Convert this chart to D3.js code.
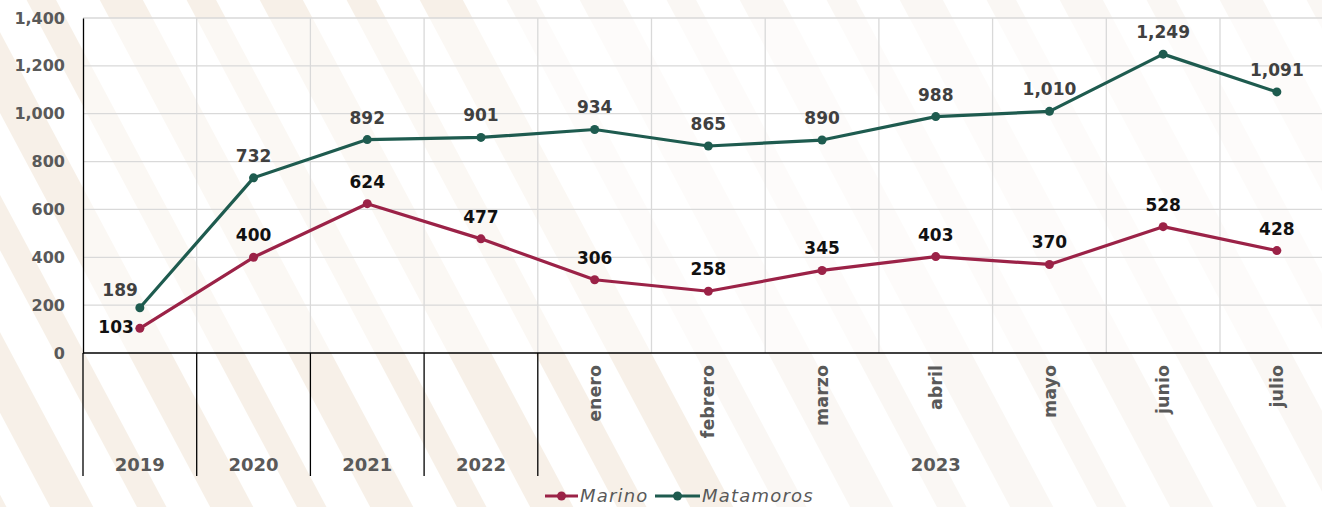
<!DOCTYPE html>
<html>
<head>
<meta charset="utf-8">
<script src="https://cdn.jsdelivr.net/npm/d3@7"></script>
<style>
  body { margin: 0; background: #fff; }
  text { font-family: "DejaVu Sans", sans-serif; }
</style>
</head>
<body>
<div id="chart"></div>
<script>
// data
const categories = ["2019", "2020", "2021", "2022", "enero", "febrero", "marzo", "abril", "mayo", "junio", "julio"];
const marino = [103, 400, 624, 477, 306, 258, 345, 403, 370, 528, 428];
const matamoros = [189, 732, 892, 901, 934, 865, 890, 988, 1010, 1249, 1091];
const yTicks = [0, 200, 400, 600, 800, 1000, 1200, 1400];
const yearLabels = ["2019", "2020", "2021", "2022", "2023"];
const yearStart = [0, 1, 2, 3, 4];   // index of first category in each year
const yearEnd = [1, 2, 3, 4, 11];

let svgWidth = 1322;
let svgHeight = 507;

let svg = d3.select("#chart")
  .append("svg")
  .attr("width", svgWidth)
  .attr("height", svgHeight);

// faint decorative background
let bg = svg.append("g").attr("opacity", 0.4);
for (let i = -4; i < 22; i++) {
  bg.append("line")
    .attr("x1", i * 80 - 60).attr("y1", -40)
    .attr("x2", i * 80 + 260).attr("y2", 560)
    .attr("stroke", i < 7 ? "#ecdcc6" : "#f3ede4")
    .attr("stroke-width", i % 2 ? 26 : 38)
    .attr("stroke-linecap", "round");
}
svg.append("rect")
  .attr("x", 83).attr("y", 18)
  .attr("width", 1322 - 83).attr("height", 335)
  .attr("fill", "#fff").attr("opacity", 0.5);

let x = d3.scaleBand().domain(categories).range([83, 1333.7]);
let y = d3.scaleLinear().domain([0, 1400]).range([353, 18]);
let cx = d => x(d) + x.bandwidth() / 2;

// gridlines
svg.append("g").selectAll("line")
  .data(yTicks.slice(1))
  .enter().append("line")
  .attr("x1", 83).attr("x2", svgWidth)
  .attr("y1", d => y(d)).attr("y2", d => y(d))
  .attr("stroke", "#d9d9d9").attr("stroke-width", 1.3);

svg.append("g").selectAll("line")
  .data(categories.slice(1))
  .enter().append("line")
  .attr("x1", d => x(d)).attr("x2", d => x(d))
  .attr("y1", 18).attr("y2", 353)
  .attr("stroke", "#d9d9d9").attr("stroke-width", 1.3);

// y axis
let yAxis = svg.append("g")
  .attr("transform", "translate(83,0)")
  .call(d3.axisLeft(y).tickValues(yTicks).tickSize(0).tickPadding(18).tickFormat(d3.format(",")));
yAxis.select(".domain").attr("stroke", "#000").attr("stroke-width", 1.3);
yAxis.selectAll("text")
  .attr("font-size", 16).attr("font-weight", "bold").attr("fill", "#595959")
  .attr("font-family", "DejaVu Sans");

// x axis baseline and year separators
svg.append("line")
  .attr("x1", 83).attr("x2", svgWidth)
  .attr("y1", y(0)).attr("y2", y(0))
  .attr("stroke", "#000").attr("stroke-width", 1.3);

svg.append("g").selectAll("line")
  .data(yearStart)
  .enter().append("line")
  .attr("x1", d => x(categories[d])).attr("x2", d => x(categories[d]))
  .attr("y1", y(0)).attr("y2", 476)
  .attr("stroke", "#000").attr("stroke-width", 1.3);

// month labels
svg.append("g").selectAll("text")
  .data(categories.slice(4))
  .enter().append("text")
  .attr("transform", d => `translate(${cx(d)},365) rotate(-90)`)
  .attr("text-anchor", "end")
  .attr("dy", "0.35em")
  .attr("font-size", 17.5).attr("font-weight", "bold").attr("fill", "#595959")
  .text(d => d);

// year labels
svg.append("g").selectAll("text")
  .data(yearLabels)
  .enter().append("text")
  .attr("x", (d, i) => (x(categories[yearStart[i]]) + x(categories[yearEnd[i] - 1]) + x.bandwidth()) / 2)
  .attr("y", 471)
  .attr("text-anchor", "middle")
  .attr("font-size", 18).attr("font-weight", "bold").attr("fill", "#595959")
  .text(d => d);

// series
let series = [
  { name: "Marino", values: marino, color: "#9b2247", labelColor: "#111" },
  { name: "Matamoros", values: matamoros, color: "#1e5b4f", labelColor: "#404040" }
];

let line = d3.line()
  .x((d, i) => cx(categories[i]))
  .y(d => y(d));

series.forEach(function(s, si) {
  svg.append("path")
    .datum(s.values)
    .attr("d", line)
    .attr("fill", "none")
    .attr("stroke", s.color)
    .attr("stroke-width", 3.2)
    .attr("stroke-linejoin", "round");

  svg.append("g").selectAll("circle")
    .data(s.values)
    .enter().append("circle")
    .attr("cx", (d, i) => cx(categories[i]))
    .attr("cy", d => y(d))
    .attr("r", 4.5)
    .attr("fill", s.color);

  svg.append("g").selectAll("text")
    .data(s.values)
    .enter().append("text")
    .attr("x", (d, i) => i === 0 ? cx(categories[i]) - (si === 0 ? 6 : 2) : cx(categories[i]))
    .attr("y", (d, i) => i === 0 ? y(d) - (si === 0 ? 1 : 18) : y(d) - 22)
    .attr("dy", "0.35em")
    .attr("text-anchor", (d, i) => i === 0 ? "end" : "middle")
    .attr("font-size", 17).attr("font-weight", "bold")
    .attr("fill", s.labelColor)
    .text(d => d3.format(",")(d));
});

// legend
let legend = svg.append("g");
let legendX = [545, 655];
let legendW = [33, 45];
series.forEach(function(s, i) {
  let g = legend.append("g").attr("transform", `translate(${legendX[i]},496)`);
  g.append("line").attr("x1", 0).attr("x2", legendW[i])
    .attr("stroke", s.color).attr("stroke-width", 3.2);
  g.append("circle").attr("cx", legendW[i] / 2).attr("r", 4.5).attr("fill", s.color);
  g.append("text").attr("x", legendW[i] + 2).attr("dy", "0.35em")
    .attr("font-size", 18).attr("font-style", "italic").attr("fill", "#595959")
    .attr("letter-spacing", 1.2)
    .text(s.name);
});
</script>
</body>
</html>
